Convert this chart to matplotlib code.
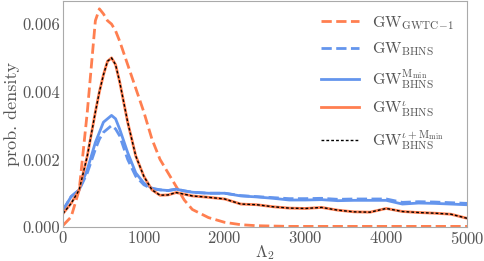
import matplotlib
matplotlib.use('Agg')
import matplotlib.pyplot as plt

plt.rcParams['font.family'] = 'serif'
plt.rcParams['font.serif'] = ['cmr10']
plt.rcParams['mathtext.fontset'] = 'cm'
plt.rcParams['axes.formatter.use_mathtext'] = True

# Lambda_2 grid
lam = [0, 100, 200, 300, 400, 450, 500, 550, 600, 650, 700, 800, 900, 1000, 1100, 1200,
       1300, 1400, 1500, 1600, 1800, 2000, 2200, 2400, 2600, 2800, 3000, 3200, 3400,
       3600, 3800, 4000, 4200, 4400, 4600, 4800, 5000]

gwtc1 = [0.00005, 0.0003, 0.0011, 0.0034, 0.0061, 0.00645, 0.0063, 0.0061, 0.0060, 0.0058,
         0.0055, 0.0048, 0.0041, 0.0034, 0.0026, 0.0020, 0.0016, 0.0012, 0.0008, 0.00052,
         0.00028, 0.00014, 0.00007, 0.00004, 0.00003, 0.00002, 0.00002, 0.00002, 0.00002,
         0.00002, 0.00002, 0.00002, 0.00002, 0.00002, 0.00002, 0.00002, 0.00002]

bhns = [0.0005, 0.0009, 0.0011, 0.0016, 0.0023, 0.0026, 0.0028, 0.0029, 0.0030, 0.0029,
        0.0027, 0.0020, 0.0015, 0.00125, 0.00113, 0.0011, 0.00108, 0.00112, 0.00107,
        0.00103, 0.0010, 0.0010, 0.00093, 0.0009, 0.00087, 0.00084, 0.00084, 0.00085,
        0.00082, 0.00083, 0.00083, 0.00083, 0.00073, 0.00075, 0.00074, 0.00072, 0.0007]

bhns_mmin = [0.0005, 0.0009, 0.0011, 0.0017, 0.0025, 0.0028, 0.0031, 0.0032, 0.0033, 0.0032,
             0.0029, 0.0022, 0.0016, 0.0013, 0.00115, 0.0011, 0.00108, 0.00112, 0.00107,
             0.00103, 0.0010, 0.0010, 0.00092, 0.00089, 0.00085, 0.0008, 0.0008, 0.00081,
             0.00078, 0.00079, 0.00079, 0.00079, 0.00068, 0.00071, 0.0007, 0.00068, 0.00066]

bhns_iota = [0.0004, 0.0007, 0.0011, 0.0021, 0.0034, 0.0040, 0.0045, 0.0049, 0.0050, 0.0048,
             0.0043, 0.0031, 0.0021, 0.0015, 0.0011, 0.00094, 0.00095, 0.00102, 0.00097,
             0.00092, 0.00088, 0.00083, 0.00068, 0.00066, 0.0006, 0.00056, 0.00055, 0.00058,
             0.0005, 0.00045, 0.00044, 0.00055, 0.00046, 0.00043, 0.00041, 0.00038, 0.00026]

orange = '#ff7f50'
blue = '#6495ed'
grey = '#555555'

fig = plt.figure(figsize=(4.85, 2.61), dpi=100)
ax = fig.add_axes([0.130, 0.130, 0.833, 0.866])

ax.plot(lam, gwtc1, '--', color=orange, lw=2, label=r'$\mathrm{GW}_{\mathrm{GWTC\!-\!1}}$')
ax.plot(lam, bhns, '--', color=blue, lw=2, label=r'$\mathrm{GW}_{\mathrm{BHNS}}$')
ax.plot(lam, bhns_mmin, '-', color=blue, lw=2, label=r'$\mathrm{GW}^{\mathrm{M_{min}}}_{\mathrm{BHNS}}$')
ax.plot(lam, bhns_iota, '-', color=orange, lw=2, label=r'$\mathrm{GW}^{\iota}_{\mathrm{BHNS}}$')
ax.plot(lam, bhns_iota, '--', color='black', lw=1, dashes=(2, 1.5), label=r'$\mathrm{GW}^{\iota+\mathrm{M_{min}}}_{\mathrm{BHNS}}$')

ax.set_xlim(0, 5000)
ax.set_ylim(0, 0.00668)
ax.set_xticks([0, 1000, 2000, 3000, 4000, 5000])
ax.set_yticks([0, 0.002, 0.004, 0.006])
ax.set_yticklabels(['0.000', '0.002', '0.004', '0.006'])
ax.tick_params(length=0, labelsize=12, labelcolor=grey, pad=2)
for s in ax.spines.values():
    s.set_color('#aaaaaa')
ax.set_xlabel(r'$\Lambda_2$', fontsize=12, color=grey, labelpad=-3)
ax.set_ylabel('prob. density', fontsize=13, color=grey, labelpad=2)

leg = ax.legend(loc='upper right', frameon=False, fontsize=11.5, handlelength=2.4,
                handletextpad=0.8, labelspacing=0.55, borderaxespad=0.4)
for t in leg.get_texts():
    t.set_color(grey)

fig.savefig('out.png', dpi=100)
